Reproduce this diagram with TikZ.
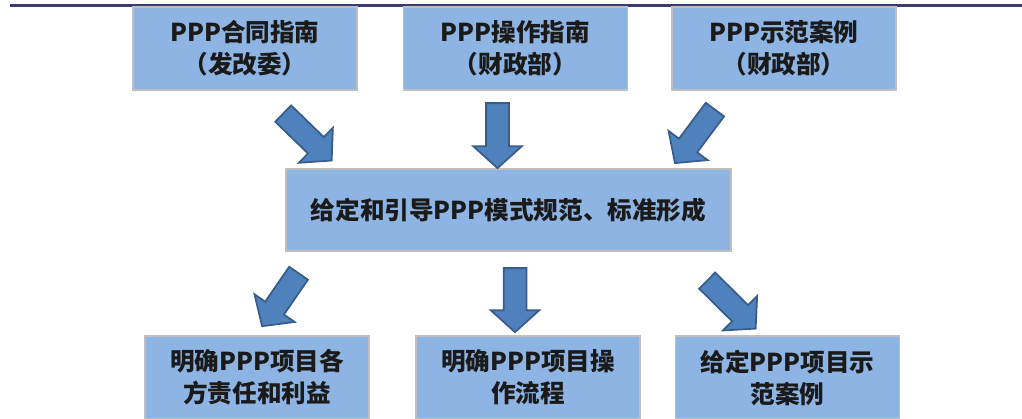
\documentclass[tikz,border=0pt]{standalone}
\usepackage{fontspec}
\setmainfont{Noto Sans CJK SC}
\usetikzlibrary{positioning, calc, shapes.arrows}
\definecolor{boxBlue}{HTML}{8DB4E2}
\definecolor{boxEdge}{HTML}{BFBFBF}
\definecolor{arrowBlue}{HTML}{4F81BD}
\definecolor{arrowEdge}{HTML}{385D8A}
\definecolor{ruleNavy}{HTML}{393C6C}
\definecolor{textDark}{HTML}{1A1A1A}

% fat arrow from #1 to #2, length and angle taken from the two points
\newcommand{\blockarrow}[2]{%
  \path let \p1 = ($(#2)-(#1)$), \n1 = {atan2(\y1,\x1)}, \n2 = {veclen(\x1,\y1)} in
    ($(#1)!0.5!(#2)$) node[fatarrow, rotate=\n1, minimum height=\n2] {};}

\begin{document}
\begin{tikzpicture}[
    box/.style={rectangle, draw=boxEdge, fill=boxBlue, line width=1.1pt,
                minimum width=4.48cm, minimum height=1.66cm, outer sep=0pt,
                align=center, text=textDark,
                font=\fontsize{14}{18.2}\selectfont\bfseries},
    fatarrow/.style={single arrow, draw=arrowEdge, fill=arrowBlue,
                     line width=1pt, inner sep=0.21cm, outer sep=0pt,
                     single arrow head extend=0.26cm,
                     single arrow tip angle=96},
  ]
    \useasboundingbox (0,0) rectangle (20.44,8.36);
    \draw[ruleNavy, line width=1.7pt] (0.2,8.246) -- (20.44,8.246);

    % three sources
    \node[box] (hetong) at (4.90,7.39) {PPP合同指南\\（发改委）};
    \node[box] (caozuo) at (10.31,7.39) {PPP操作指南\\（财政部）};
    \node[box] (shifan) at (15.68,7.39) {PPP示范案例\\（财政部）};

    \node[box, minimum width=8.9cm, minimum height=1.64cm] (guifan) at (10.17,4.16)
      {给定和引导PPP模式规范、标准形成};

    % three results
    \node[box] (zeren) at (5.14,0.81) {明确PPP项目各\\方责任和利益};
    \node[box] (liucheng) at (10.56,0.81) {明确PPP项目操\\作流程};
    \node[box] (anli) at (15.75,0.81) {给定PPP项目示\\范案例};

    % arrow ends
    \coordinate (t1) at ($(hetong.south)+(0.69,-0.40)$);
    \coordinate (h1) at ($(guifan.north)+(-3.61,0.24)$);
    \coordinate (t2) at ($(caozuo.south)+(-0.36,-0.16)$);
    \coordinate (h2) at ($(guifan.north)+(-0.22,0.12)$);
    \coordinate (t3) at ($(shifan.south)+(-1.32,-0.31)$);
    \coordinate (h3) at ($(guifan.north)+(3.39,0.20)$);
    \coordinate (t4) at ($(guifan.south)+(-4.14,-0.36)$);
    \coordinate (h4) at ($(zeren.north)+(0.16,0.28)$);
    \coordinate (t5) at ($(guifan.south)+(0.13,-0.24)$);
    \coordinate (h5) at ($(liucheng.north)+(-0.26,0.18)$);
    \coordinate (t6) at ($(guifan.south)+(3.90,-0.52)$);
    \coordinate (h6) at ($(anli.north)+(-0.71,0.22)$);

    \blockarrow{t1}{h1}
    \blockarrow{t2}{h2}
    \blockarrow{t3}{h3}
    \blockarrow{t4}{h4}
    \blockarrow{t5}{h5}
    \blockarrow{t6}{h6}
  \end{tikzpicture}
\end{document}
